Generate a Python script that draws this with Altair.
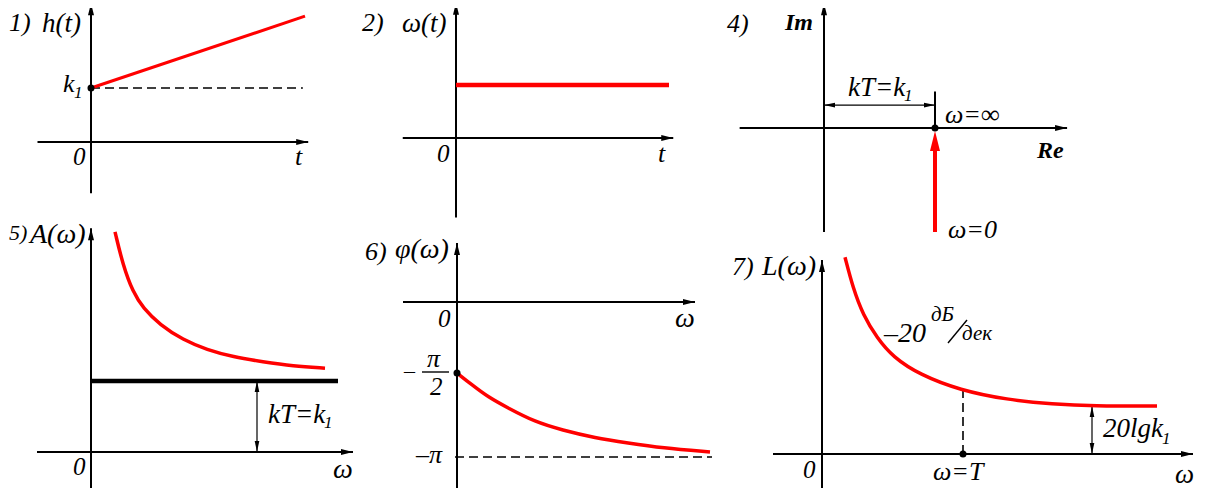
import altair as alt
import pandas as pd

# ------------------------------------------------------------------ data
# 1) step response h(t) of the element
p1_t = [0.0, 1.0]
p1_h = [1.0, 2.33]          # starts at k1 (=1), rises linearly
p1_k1 = 1.0
# 2) weight function w(t)
p2_t = [0.0, 1.0]
p2_w = [1.0, 1.0]
# 4) hodograph (Re = kT = k1, Im from -inf to 0)
p4_re = [1.0, 1.0]
p4_im = [-1.0, -0.2]
p4_kT = 1.0
# 5) amplitude A(w)
p5_w = [0.24, 0.32, 0.42, 0.52, 0.69, 0.92, 1.16, 1.42, 1.72, 2.02, 2.34]
p5_A = [3.10, 2.63, 2.25, 2.03, 1.79, 1.58, 1.44, 1.34, 1.27, 1.21, 1.18]
p5_k1 = 1.0
# 6) phase phi(w), in units of pi (schematic)
p6_w = [0.0, 0.15, 0.31, 0.51, 0.78, 1.05, 1.38, 1.71, 2.05, 2.53]
p6_phi = [-0.458, -0.535, -0.613, -0.684, -0.774, -0.826, -0.877, -0.910, -0.942, -0.968]
p6_limit = -1.0
# 7) log amplitude L(w)
p7_w = [0.23, 0.31, 0.41, 0.55, 0.71, 0.98, 1.38, 1.85, 2.31, 2.71, 3.35]
p7_L = [4.10, 3.46, 2.90, 2.42, 2.02, 1.65, 1.33, 1.13, 1.04, 1.00, 1.00]
p7_T = 1.41
p7_L_T = 1.33
p7_level = 1.0

# ------------------------------------------------------------------ layout
# panel frames: origin on the canvas and pixels per unit
FR = {
    "p1": dict(ox=91, oy=142, sx=214, sy=54),
    "p2": dict(ox=456, oy=138, sx=213, sy=53),
    "p4": dict(ox=824, oy=128, sx=111, sy=104),
    "p5": dict(ox=91, oy=452, sx=100, sy=71),
    "p6": dict(ox=457, oy=302, sx=100, sy=155),
    "p7": dict(ox=822, oy=454, sx=100, sy=48),
}
# axis extents in panel units: xmin, xmax, ymin, ymax
AXES = {
    "p1": (-0.25, 1.015, -0.95, 2.57),
    "p2": (-0.25, 1.02, -1.5, 2.55),
    "p4": (-0.76, 2.19, -1.0, 1.2),
    "p5": (-0.54, 2.62, -0.59, 3.15),
    "p6": (-0.54, 2.38, -1.2, 0.38),
    "p7": (-0.49, 3.71, -0.85, 4.04),
}


def cx(p, v):
    return FR[p]["ox"] + v * FR[p]["sx"]


def cy(p, v):
    return FR[p]["oy"] - v * FR[p]["sy"]


def segs(items):
    rows = []
    for p, xa, ya, xb, yb in items:
        rows.append(dict(x=cx(p, xa), y=cy(p, ya), x2=cx(p, xb), y2=cy(p, yb)))
    return pd.DataFrame(rows)


def pts(items):
    rows = []
    for it in items:
        p, xv, yv = it[:3]
        ang = it[3] if len(it) > 3 else 0
        rows.append(dict(x=cx(p, xv), y=cy(p, yv), ang=ang))
    return pd.DataFrame(rows)


def curves(items):
    rows = []
    for cid, (p, xs_, ys_) in enumerate(items):
        for i, (a, b) in enumerate(zip(xs_, ys_)):
            rows.append(dict(id=cid, ord=i, x=cx(p, a), y=cy(p, b)))
    return pd.DataFrame(rows)


XS = alt.Scale(domain=[8, 1199], nice=False, zero=False)
YS = alt.Scale(domain=[8, 488], nice=False, zero=False, reverse=True)


def enc_seg(ch):
    return ch.encode(
        x=alt.X("x:Q", scale=XS, axis=None),
        y=alt.Y("y:Q", scale=YS, axis=None),
        x2="x2:Q",
        y2="y2:Q",
    )


def enc_pt(ch, angle=True):
    e = dict(x=alt.X("x:Q", scale=XS, axis=None), y=alt.Y("y:Q", scale=YS, axis=None))
    if angle:
        e["angle"] = alt.Angle("ang:Q", scale=None)
    return ch.encode(**e)


# axes
axis_items, axis_tips = [], []
for p, (x0, x1, y0, y1) in AXES.items():
    axis_items.append((p, x0, 0, x1, 0))
    axis_items.append((p, 0, y0, 0, y1))
    axis_tips.append((p, x1, 0, 90))
    axis_tips.append((p, 0, y1, 0))

axes_layer = enc_seg(alt.Chart(segs(axis_items)).mark_rule(color="black", strokeWidth=2))
tips_layer = enc_pt(
    alt.Chart(pts(axis_tips)).mark_point(
        shape="M0,0L-0.5,2L0.5,2Z", filled=True, size=144, color="black", opacity=1, strokeWidth=0
    )
)

# thick black asymptote in panel 5
thick_layer = enc_seg(
    alt.Chart(segs([("p5", 0, p5_k1, 2.47, p5_k1)])).mark_rule(color="black", strokeWidth=4.3)
)

# dashed guides
dash_layer = enc_seg(
    alt.Chart(
        segs([
            ("p1", p1_t[0], p1_k1, 0.99, p1_k1),
            ("p6", -0.02, p6_limit, 2.55, p6_limit),
            ("p7", p7_T, 0, p7_T, p7_L_T),
        ])
    ).mark_rule(color="black", strokeWidth=1.6, strokeDash=[9, 5])
)

# dimension lines
dim_layer = enc_seg(
    alt.Chart(
        segs([
            ("p4", 0, 0.22, p4_kT, 0.22),
            ("p5", 1.66, 0, 1.66, p5_k1),
            ("p7", 2.70, 0, 2.70, p7_level),
        ])
    ).mark_rule(color="black", strokeWidth=1.2)
)
tick_layer = enc_seg(
    alt.Chart(segs([("p4", p4_kT, 0, p4_kT, 0.35)])).mark_rule(color="black", strokeWidth=2)
)
dim_tips = enc_pt(
    alt.Chart(
        pts([
            ("p4", 0, 0.22, 270), ("p4", p4_kT, 0.22, 90),
            ("p5", 1.66, p5_k1, 0), ("p5", 1.66, 0, 180),
            ("p7", 2.70, p7_level, 0), ("p7", 2.70, 0, 180),
        ])
    ).mark_point(shape="M0,0L-0.42,2L0.42,2Z", filled=True, size=121, color="black", opacity=1, strokeWidth=0)
)

# red straight lines
red1 = enc_seg(alt.Chart(segs([("p1", p1_t[0], p1_h[0], p1_t[1], p1_h[1])])).mark_rule(color="#ff0000", strokeWidth=3))
red2 = enc_seg(alt.Chart(segs([("p2", p2_t[0], p2_w[0], p2_t[1], p2_w[1])])).mark_rule(color="#ff0000", strokeWidth=4.5))
red4 = enc_seg(alt.Chart(segs([("p4", p4_re[0], p4_im[0], p4_re[1], p4_im[1])])).mark_rule(color="#ff0000", strokeWidth=4))
red4_tip = enc_pt(
    alt.Chart(pts([("p4", 1.0, -0.03, 0)])).mark_point(
        shape="M0,0L-0.5,2L0.5,2Z", filled=True, size=400, color="#ff0000", opacity=1, strokeWidth=0
    )
)

# red curves
curve_layer = alt.Chart(
    curves([("p5", p5_w, p5_A), ("p6", p6_w, p6_phi), ("p7", p7_w, p7_L)])
).mark_line(color="#ff0000", strokeWidth=3.5, interpolate="basis").encode(
    x=alt.X("x:Q", scale=XS, axis=None),
    y=alt.Y("y:Q", scale=YS, axis=None),
    detail="id:N",
    order="ord:Q",
)

# dots
dot_layer = enc_pt(
    alt.Chart(pts([("p1", 0, p1_k1), ("p4", p4_kT, 0), ("p6", p6_w[0], p6_phi[0]), ("p7", p7_T, 0)])).mark_circle(
        size=49, color="black", opacity=1
    ),
    angle=False,
)

# ------------------------------------------------------------------ annotations (canvas positions)
labels = [
    # x, baseline y, text, font size
    (9, 31, "1)", 26), (42, 32, "h(t)", 27), (63, 92, "k", 26), (74, 98, "1", 17),
    (73, 165, "0", 25), (295, 165, "t", 26),
    (362, 31, "2)", 26), (402, 32, "ω(t)", 27), (437, 162, "0", 25), (658, 162, "t", 26),
    (727, 32, "4)", 26), (848, 96, "kT=k", 27), (904, 101, "1", 17),
    (945, 123, "ω=∞", 26), (948, 238, "ω=0", 26),
    (9, 240, "5)", 22), (30, 243, "A(ω)", 28), (268, 423, "kT=k", 27), (324, 428, "1", 17),
    (73, 475, "0", 25), (333, 478, "ω", 28),
    (365, 260, "6)", 26), (395, 258, "φ(ω)", 28), (438, 327, "0", 25), (675, 327, "ω", 28),
    (427, 367, "π", 26), (430, 395, "2", 25), (404, 378, "–", 22), (416, 463, "–π", 26),
    (732, 275, "7)", 26), (762, 275, "L(ω)", 28), (884, 342, "–20", 28),
    (931, 321, "дБ", 21), (962, 340, "дек", 21),
    (803, 478, "0", 25), (933, 480, "ω=T", 26), (1175, 483, "ω", 27),
    (1103, 437, "20lgk", 27), (1162, 444, "1", 17),
]
bold_labels = [(785, 30, "Im", 24), (1037, 158, "Re", 24)]

lab_df = pd.DataFrame(labels, columns=["x", "y", "t", "fs"])
bold_df = pd.DataFrame(bold_labels, columns=["x", "y", "t", "fs"])


def text_layers(df, weight):
    out = []
    for fs, sub in df.groupby("fs"):
        out.append(
            alt.Chart(sub).mark_text(
                font="Liberation Serif", fontStyle="italic", fontWeight=weight, fontSize=float(fs),
                align="left", baseline="alphabetic", color="black"
            ).encode(
                x=alt.X("x:Q", scale=XS, axis=None),
                y=alt.Y("y:Q", scale=YS, axis=None),
                text="t:N",
            )
        )
    return out


strokes = pd.DataFrame([
    dict(x=422, y=372, x2=449, y2=372),   # fraction bar of pi/2
    dict(x=948, y=343, x2=967, y2=320),   # slash of dB/dec
])
stroke_layer = enc_seg(alt.Chart(strokes).mark_rule(color="black", strokeWidth=1.4))

chart = alt.layer(
    axes_layer, tips_layer, thick_layer, dash_layer, dim_layer, tick_layer, dim_tips,
    red1, red2, red4, red4_tip, curve_layer, dot_layer,
    *text_layers(lab_df, "normal"), *text_layers(bold_df, "bold"), stroke_layer,
).properties(
    width=1191, height=480, padding=0,
    autosize=alt.AutoSizeParams(type="none"),
).configure_view(strokeWidth=0)

chart.save("out.html", embed_options={"renderer": "svg", "actions": False})
